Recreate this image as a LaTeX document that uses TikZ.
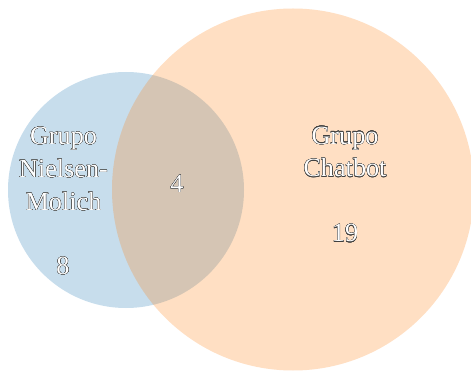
\documentclass[tikz,border=0pt]{standalone}
\usepackage{fontspec}
\setmainfont{Liberation Serif}
\usepackage[copies]{contour}
\contourlength{0.22pt}
\usetikzlibrary{positioning}
\definecolor{CsetA}{RGB}{31,119,180}
\definecolor{CsetB}{RGB}{255,127,14}
\tikzset{
setfill/.style={fill=#1, fill opacity=.25},
vlabel/.style={text=white, font=\fontsize{26.2}{32.8}\selectfont, align=center, inner sep=0pt},
}
\newcommand\outl[1]{\contour{black!75}{#1}}

\begin{document}
\begin{tikzpicture}[x=1pt,y=-1pt]
\useasboundingbox (0,0) rectangle (471,371);

%% sets
\fill[setfill=CsetA] (126,190) circle (118);
\fill[setfill=CsetB] (293,189.5) circle (181);

%% set labels
\node[vlabel] (lA) at (63.5,169) {\outl{Grupo}\\\outl{Nielsen-}\\\outl{Molich}};
\node[vlabel] (lB) at (345,152) {\outl{Grupo}\\\outl{Chatbot}};

%% subset sizes
\node[vlabel] (nA) at (63,266) {\outl{8}};
\node[vlabel] (nAB) at (177,184) {\outl{4}};
\node[vlabel] (nB) at (345,233.5) {\outl{19}};
\end{tikzpicture}
\end{document}
